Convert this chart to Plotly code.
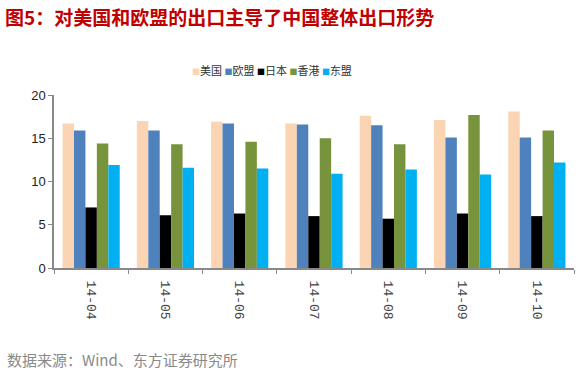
import plotly.graph_objects as go

categories = ["14-04", "14-05", "14-06", "14-07", "14-08", "14-09", "14-10"]
series_names = ["美国", "欧盟", "日本", "香港", "东盟"]
usa = [16.7, 17.0, 16.9, 16.7, 17.6, 17.1, 18.1]
eu = [15.9, 15.9, 16.7, 16.6, 16.5, 15.1, 15.1]
japan = [7.0, 6.1, 6.3, 6.0, 5.7, 6.3, 6.0]
hongkong = [14.4, 14.3, 14.6, 15.0, 14.3, 17.7, 15.9]
asean = [11.9, 11.6, 11.5, 10.9, 11.4, 10.8, 12.2]
colors = ["#FBD4B4", "#4F81BD", "#000000", "#77933C", "#00B0F0"]

title_text = "图5：对美国和欧盟的出口主导了中国整体出口形势"
source_text = "数据来源：Wind、东方证券研究所"

W, H = 585, 372
pl, pr, pt, pb = 54, 11, 95, 104
pw, ph = W - pl - pr, H - pt - pb

def px(x):
    return (x - pl) / pw

def py(y):
    return (H - pb - y) / ph

fig = go.Figure()
for name, vals, col in zip(series_names, [usa, eu, japan, hongkong, asean], colors):
    fig.add_trace(go.Bar(x=categories, y=vals, name=name, marker_color=col,
                         marker_line_width=0, showlegend=False))

legend_html = " ".join(
    f'<span style="color:{c};font-size:8px">■</span>{n}' for n, c in zip(series_names, colors)
)

annotations = [
    dict(text=f"<b>{title_text}</b>", x=px(3), y=py(17), xref="paper", yref="paper",
         xanchor="left", yanchor="middle", showarrow=False,
         font=dict(size=19, color="#C00000", family="Noto Sans CJK SC")),
    dict(text=legend_html, x=px(272), y=py(70), xref="paper", yref="paper",
         xanchor="center", yanchor="middle", showarrow=False,
         font=dict(size=11, color="#333", family="Noto Sans CJK SC")),
    dict(text=source_text, x=px(5), y=py(359), xref="paper", yref="paper",
         xanchor="left", yanchor="middle", showarrow=False,
         font=dict(size=15, color="#8a8a8a", family="Noto Sans CJK SC")),
]

fig.update_layout(
    width=W, height=H,
    paper_bgcolor="white", plot_bgcolor="white",
    margin=dict(l=pl, r=pr, t=pt, b=pb),
    barmode="group", bargap=0.23, bargroupgap=0,
    font=dict(family="Liberation Sans, Arial, sans-serif", color="#222"),
    xaxis=dict(type="category", showline=True, linecolor="#888", linewidth=2,
               ticks="outside", ticklen=4, tickcolor="#888",
               tickson="boundaries", tickangle=90, ticklabelstandoff=8,
               tickfont=dict(size=13, color="#444", family="Liberation Mono, monospace"),
               showgrid=False),
    yaxis=dict(range=[0, 20], dtick=5, showline=True, linecolor="#888", linewidth=1.5,
               ticks="outside", ticklen=4, tickcolor="#888",
               tickfont=dict(size=13, color="#222"), showgrid=False, zeroline=False),
    annotations=annotations,
)

fig.write_html("out.html", config={"displayModeBar": False},
               post_script="document.body.style.margin='0';")
